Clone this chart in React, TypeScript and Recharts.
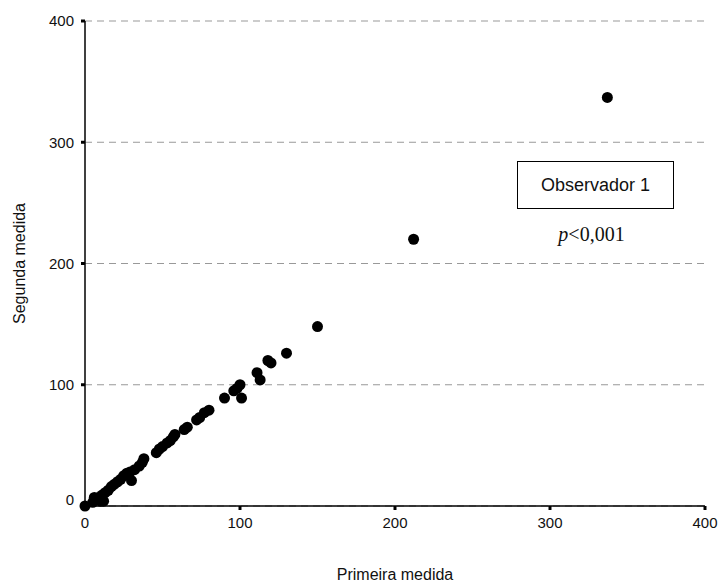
import React from "react";
import {
  ScatterChart,
  Scatter,
  XAxis,
  YAxis,
  CartesianGrid,
} from "recharts";

// Primeira medida (x) vs Segunda medida (y), Observador 1
const primeira = [
  0, 5, 6, 9, 10, 11, 12, 13, 15, 17, 19, 21, 23, 25, 27, 29, 30, 32, 35, 37,
  38, 46, 48, 50, 53, 55, 57, 58, 64, 66, 72, 74, 77, 80, 90, 96, 98, 100, 101,
  111, 113, 118, 120, 130, 150, 212, 337,
];
const segunda = [
  0, 3, 7, 7, 4, 9, 4, 11, 13, 16, 18, 20, 22, 25, 27, 28, 21, 30, 33, 36, 39,
  44, 47, 49, 52, 54, 57, 59, 63, 65, 71, 73, 77, 79, 89, 95, 97, 100, 89, 110,
  104, 120, 118, 126, 148, 220, 337,
];
const axisTicks = [0, 100, 200, 300, 400];

const points = primeira.map((x, i) => ({ x, y: segunda[i] }));

const tickStyle = { fill: "#111", fontSize: 15, fontFamily: "Liberation Sans, Arial, sans-serif" };

function YTick(props: any) {
  const { x, y, payload } = props;
  // Excel-style: the zero label sits a little above the axis line
  const shift = payload.value === 0 ? -6 : 0;
  return (
    <text x={x} y={y + shift} dy="0.36em" textAnchor="end" {...tickStyle}>
      {payload.value}
    </text>
  );
}

export default function App() {
  return (
    <div
      style={{
        position: "absolute",
        left: 0,
        top: 0,
        width: 718,
        height: 583,
        background: "#fff",
        fontFamily: "Liberation Sans, Arial, sans-serif",
      }}
    >
      <ScatterChart
        width={718}
        height={583}
        margin={{ top: 21, right: 13, left: 0, bottom: 0 }}
      >
        <CartesianGrid
          vertical={false}
          stroke="#999"
          strokeDasharray="7 5"
        />
        <XAxis
          type="number"
          dataKey="x"
          domain={[0, 400]}
          ticks={axisTicks}
          height={77}
          axisLine={{ stroke: "#000", strokeWidth: 1.5 }}
          tickLine={{ stroke: "#000", strokeWidth: 3 }}
          tickSize={4}
          tickMargin={7}
          tick={tickStyle}
          interval={0}
          label={{
            value: "Primeira medida",
            position: "insideBottom",
            offset: 3,
            fill: "#111",
            fontSize: 16,
          }}
        />
        <YAxis
          type="number"
          dataKey="y"
          domain={[0, 400]}
          ticks={axisTicks}
          width={85}
          axisLine={{ stroke: "#000", strokeWidth: 1.5 }}
          tickLine={{ stroke: "#000", strokeWidth: 3 }}
          tickSize={4}
          tickMargin={7}
          tick={<YTick />}
          interval={0}
          label={{
            value: "Segunda medida",
            angle: -90,
            position: "insideLeft",
            offset: 19,
            fill: "#111",
            fontSize: 16,
            style: { textAnchor: "middle" },
          }}
        />
        <Scatter
          data={points}
          fill="#000"
          isAnimationActive={false}
          shape={(p: any) => <circle cx={p.cx} cy={p.cy} r={5.5} fill="#000" />}
        />
      </ScatterChart>

      <div
        style={{
          position: "absolute",
          left: 517,
          top: 161,
          width: 157,
          height: 48,
          boxSizing: "border-box",
          border: "1.5px solid #000",
          display: "flex",
          alignItems: "center",
          justifyContent: "center",
          fontSize: 18,
          color: "#111",
        }}
      >
        Observador 1
      </div>
      <div
        style={{
          position: "absolute",
          left: 513,
          top: 224,
          width: 157,
          lineHeight: "20px",
          textAlign: "center",
          fontFamily: "Liberation Serif, Times New Roman, serif",
          fontSize: 20,
          color: "#111",
        }}
      >
        <i>p</i>&lt;0,001
      </div>
    </div>
  );
}
